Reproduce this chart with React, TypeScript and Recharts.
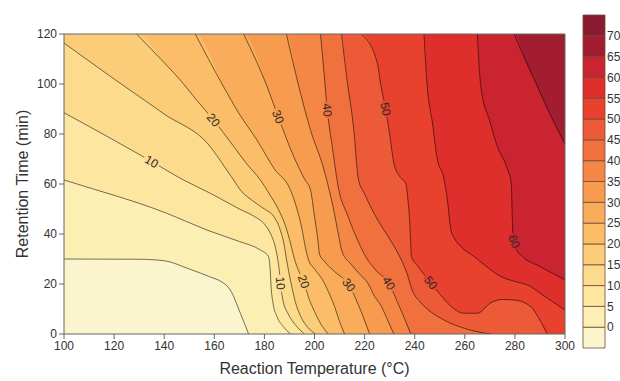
import {
  Area,
  Bar,
  BarChart,
  CartesianGrid,
  ComposedChart,
  Line,
  Scatter,
  XAxis,
  YAxis,
} from "recharts";

const FONT = "'Liberation Sans', Arial, Helvetica, sans-serif";

const X_TICKS = [100, 120, 140, 160, 180, 200, 220, 240, 260, 280, 300];
const Y_TICKS = [0, 20, 40, 60, 80, 100, 120];
const CB_TICKS = [0, 5, 10, 15, 20, 25, 30, 35, 40, 45, 50, 55, 60, 65, 70];

// band colours: <0, 0-5, 5-10 ... 65-70, >70
const BAND_COLORS = [
  "#fbf5cd", "#fcefb4", "#fce6a0", "#fddb8c", "#fccd79", "#fbbd67",
  "#f9ad5a", "#f79b4e", "#f48745", "#f0713e", "#ec5a37", "#e8412e",
  "#df2f2c", "#ca2430", "#a31d30", "#8a1a2f",
];

// contour lines, [temperature, time]
const c00 = [[100, 30], [130, 29.9], [140, 29.3], [150, 26], [158.4, 22.8], [163, 20.8], [166.4, 17.6], [170.4, 8.3], [173.7, 0]];
const c05 = [[100, 61.6], [113, 57.6], [130, 52.3], [141, 48.3], [157, 41.6], [170, 37], [178.4, 33.6], [181.5, 31.2], [182.3, 26], [182.6, 20], [183.5, 12], [185, 7], [187.5, 3], [190.5, 0]];
const c10 = [[100, 88.5], [120, 77.5], [135, 69], [147.7, 61.6], [158.4, 56.3], [170, 50], [176, 47], [179.7, 44.3], [182.5, 40], [184.3, 35], [185.3, 30], [186, 25], [186.4, 20.3], [187.3, 14], [189.5, 8], [192.5, 3.5], [196, 0]];
const c15 = [[100, 116.4], [120, 102], [140, 88], [158.4, 74.9], [164, 67], [167.7, 61.6], [170.4, 57.6], [175, 53.5], [180, 50], [183.7, 47], [186.2, 42], [187.8, 36], [188.8, 30], [189.7, 25], [190.7, 20], [192.3, 13], [194.5, 7], [197, 3], [200.5, 0]];
const c20 = [[129, 120], [140, 108.5], [146.4, 101.6], [153, 93.5], [159.7, 85.6], [167, 76], [173, 68], [178.4, 61.6], [182, 56], [185.5, 50], [188.5, 43], [190.5, 36], [192, 30], [193.8, 25], [195.7, 21], [197.5, 15], [200, 9], [202.5, 4], [205.5, 0]];
const c25 = [[152.4, 120], [163.7, 98.9], [170, 88], [177, 77.6], [184, 66], [190.4, 57.6], [193, 50], [195, 42], [196.3, 35], [197.5, 30], [200, 26], [203, 22], [205.5, 17], [208, 11], [210, 5], [212, 0]];
const c30 = [[171.7, 120], [181.1, 98.9], [185.5, 86.9], [191.7, 71], [196, 62], [198.4, 57.6], [200, 47], [201.3, 38], [202, 32], [204, 29], [208, 25], [213.7, 19.6], [216.5, 14], [219, 8], [222, 0]];
const c35 = [[188.8, 120], [193.1, 101.6], [198.4, 81.6], [203.7, 66], [206, 57], [208, 48], [209.5, 40], [211, 33], [214.5, 28], [218, 24], [221.5, 20], [224, 15], [226.4, 11.6], [229, 6], [231.7, 0]];
const c40 = [[202.4, 120], [203.7, 105.6], [205.1, 89.6], [207.1, 74.9], [209.7, 57.6], [213, 48], [217, 38], [221, 30], [225, 25], [229.7, 20.3], [233, 13], [235.8, 6.5], [238.5, 0]];
const c45 = [[210.8, 120], [213, 101.6], [215.7, 81.6], [217.5, 62], [220, 56], [225, 46], [230, 38], [234, 31], [237, 24], [239, 17.5], [242, 13], [245, 10], [251.7, 5.6], [260, 2.2], [270.4, 0]];
const c50 = [[218.7, 120], [225.1, 108.3], [226.4, 100], [228.4, 90], [230, 80], [231.7, 68.3], [234, 63], [236.4, 60.3], [237.3, 53.6], [238, 45], [238.4, 36], [238.7, 31], [241, 27.5], [246.4, 20.5], [250, 16], [254, 11.5], [259.7, 8.3], [265, 8.3], [270.4, 12.5], [275, 13.8], [279.6, 13.6], [286.4, 10.9], [290, 5.5], [293, 0]];
const c55 = [[243.7, 120], [245, 99], [247, 85], [249, 70], [251.7, 62], [253, 54], [254.4, 42], [256, 38], [258.4, 35], [263.7, 31], [268, 27.5], [274.4, 23], [280, 21], [285, 19.6], [292, 15], [300, 9.6]];
const c60 = [[265, 120], [266.4, 99], [270, 85], [273, 75], [277, 66], [278.6, 60], [278.8, 52], [279, 45], [279.4, 38], [280.5, 34], [283, 31], [290, 27], [300, 21.6]];
const c65 = [[279.7, 120], [284, 110], [289, 99], [294, 88], [300, 76]];

const CONTOURS = [c00, c05, c10, c15, c20, c25, c30, c35, c40, c45, c50, c55, c60, c65];

// inline contour labels: level, position, text rotation
const LABELS = [
  { level: 10, x: 135, y: 69, rot: 30 },
  { level: 20, x: 159.7, y: 85.6, rot: 50 },
  { level: 30, x: 185.5, y: 86.9, rot: 69 },
  { level: 40, x: 205.1, y: 89.6, rot: 84 },
  { level: 50, x: 228.4, y: 90, rot: 80 },
  { level: 10, x: 186.4, y: 20.3, rot: 85 },
  { level: 20, x: 195.7, y: 21, rot: 70 },
  { level: 30, x: 213.7, y: 19.6, rot: 52 },
  { level: 40, x: 229.7, y: 20.3, rot: 58 },
  { level: 50, x: 246.4, y: 20.5, rot: 52 },
  { level: 60, x: 279.7, y: 37, rot: 68 },
];

const toPoints = (pts: number[][]) => pts.map(([x, y]) => ({ x, y }));

// close a contour along the frame so the area above it can be filled
const toFill = (pts: number[][]) => {
  const out = toPoints(pts);
  if (pts[0][1] === 120 && pts[0][0] > 100) out.unshift({ x: 100, y: 120 });
  const last = pts[pts.length - 1];
  if (last[1] === 0 && last[0] < 300) out.push({ x: 300, y: 0 });
  return out;
};

const labelData = LABELS.map((l) => ({ ...l, text: String(l.level), bg: BAND_COLORS[l.level / 5 + 1] }));

const cbRow: Record<string, number | string> = { name: "cb" };
BAND_COLORS.forEach((_, i) => {
  cbRow[`b${i}`] = i === 0 ? -5 : 5;
});

const ContourLabel = (p: any) => {
  const { cx, cy, payload } = p;
  return (
    <g transform={`translate(${cx},${cy}) rotate(${payload.rot})`}>
      <rect x={-8.5} y={-2.5} width={17} height={5} fill={payload.bg} />
      <text x={0} y={4.2} textAnchor="middle" fontSize={12} fill="#2b2b2b" fontFamily={FONT}>
        {payload.text}
      </text>
    </g>
  );
};

const tickStyle = { fontSize: 12, fill: "#333", fontFamily: FONT };
const axisStroke = "#666";

export default function App() {
  return (
    <div style={{ position: "absolute", left: 0, top: 0, width: 620, height: 381, background: "#fff" }}>
      <ComposedChart width={620} height={381} margin={{ top: 28, right: 47, bottom: 7, left: 14 }}>
        <CartesianGrid fill={BAND_COLORS[0]} horizontal={false} vertical={false} stroke="none" />
        <XAxis
          type="number"
          dataKey="x"
          domain={[100, 300]}
          ticks={X_TICKS}
          allowDataOverflow
          interval={0}
          height={40}
          tickSize={5}
          tick={tickStyle}
          stroke={axisStroke}
          label={{ value: "Reaction Temperature (°C)", position: "insideBottom", offset: 0, fontSize: 16, fill: "#333", fontFamily: FONT }}
        />
        <XAxis
          xAxisId="t"
          orientation="top"
          type="number"
          dataKey="x"
          domain={[100, 300]}
          ticks={X_TICKS}
          interval={0}
          height={6}
          tickSize={5}
          tickFormatter={() => ""}
          stroke={axisStroke}
        />
        <YAxis
          type="number"
          dataKey="y"
          domain={[0, 120]}
          ticks={Y_TICKS}
          allowDataOverflow
          interval={0}
          width={50}
          tickSize={5}
          tick={tickStyle}
          stroke={axisStroke}
          label={{ value: "Retention Time (min)", angle: -90, position: "insideLeft", offset: 8, fontSize: 16, fill: "#333", fontFamily: FONT, style: { textAnchor: "middle" } }}
        />
        <YAxis
          yAxisId="r"
          orientation="right"
          type="number"
          domain={[0, 120]}
          ticks={Y_TICKS}
          interval={0}
          width={8}
          tickSize={5}
          tickFormatter={() => ""}
          stroke={axisStroke}
        />
        {CONTOURS.map((pts, i) => (
          <Area
            key={`f${i}`}
            data={toFill(pts)}
            dataKey="y"
            type="monotone"
            baseValue={120}
            fill={BAND_COLORS[i + 1]}
            fillOpacity={1}
            stroke="none"
            isAnimationActive={false}
          />
        ))}
        {CONTOURS.map((pts, i) => (
          <Line
            key={`l${i}`}
            data={toPoints(pts)}
            dataKey="y"
            type="monotone"
            stroke="#000"
            strokeOpacity={0.6}
            strokeWidth={0.9}
            dot={false}
            isAnimationActive={false}
          />
        ))}
        <Scatter data={labelData} dataKey="y" shape={ContourLabel} isAnimationActive={false} />
      </ComposedChart>

      <div style={{ position: "absolute", left: 575, top: 0 }}>
        <BarChart
          width={45}
          height={381}
          data={[cbRow]}
          margin={{ top: 15, right: 0, bottom: 33, left: 8 }}
          barCategoryGap={0}
          stackOffset="sign"
        >
          <XAxis dataKey="name" hide />
          <YAxis
            orientation="right"
            type="number"
            domain={[-5, 75]}
            ticks={CB_TICKS}
            interval={0}
            width={15}
            tickLine={false}
            axisLine={false}
            tickSize={0}
            tickMargin={2}
            tick={tickStyle}
          />
          {BAND_COLORS.map((c, i) => (
            <Bar key={i} dataKey={`b${i}`} stackId="cb" fill={c} stroke="#6e4a3a" strokeWidth={0.8} isAnimationActive={false} />
          ))}
        </BarChart>
      </div>
    </div>
  );
}
